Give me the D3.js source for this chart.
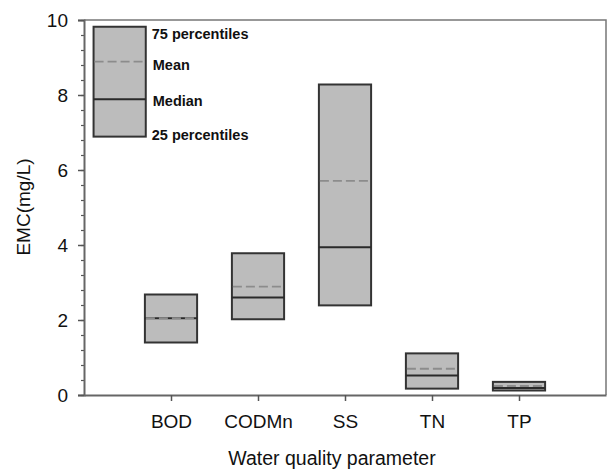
<!DOCTYPE html>
<html>
<head>
<meta charset="utf-8">
<script src="https://cdn.jsdelivr.net/npm/d3@7"></script>
<style>
  body { margin: 0; background: #fff; }
  text { font-family: "Liberation Sans", Arial, sans-serif; }
</style>
</head>
<body>
<script>
// Data
var params = ["BOD", "CODMn", "SS", "TN", "TP"];
var q1 = [1.40, 2.02, 2.39, 0.17, 0.12];
var q3 = [2.68, 3.78, 8.28, 1.11, 0.35];
var medians = [2.05, 2.60, 3.94, 0.52, 0.19];
var means = [2.05, 2.89, 5.71, 0.70, 0.24];
var yTicks = [0, 2, 4, 6, 8, 10];

// legend box (drawn like a box in data units)
var legendPos = 0.41;
var legendVals = { q1: 6.89, median: 7.89, mean: 8.89, q3: 9.82 };
var legendLabels = ["75 percentiles", "Mean", "Median", "25 percentiles"];
var legendLabelY = [9.62, 8.80, 7.84, 6.93];

var svgWidth = 608;
var svgHeight = 470;

var chartMargin = { top: 20, right: 2, bottom: 75, left: 84 };
var chartWidth = svgWidth - chartMargin.left - chartMargin.right;
var chartHeight = svgHeight - chartMargin.top - chartMargin.bottom;

var svg = d3.select("body")
  .append("svg")
  .attr("width", svgWidth)
  .attr("height", svgHeight);

var chartGroup = svg.append("g")
  .attr("transform", `translate(${chartMargin.left}, ${chartMargin.top})`);

// positions 1..5 in a 0..6 domain
var xScale = d3.scaleLinear().domain([0, 6]).range([0, chartWidth]);
var yScale = d3.scaleLinear().domain([0, 10]).range([chartHeight, 0]);
var boxW = xScale(0.6) - xScale(0);

var boxes = params.map(function(p, i) {
  return { name: p, pos: i + 1, q1: q1[i], q3: q3[i], median: medians[i], mean: means[i] };
});

// frame (top and right)
chartGroup.append("path")
  .attr("d", `M0,0H${chartWidth}V${chartHeight}`)
  .attr("fill", "none")
  .attr("stroke", "#777")
  .attr("stroke-width", 1.5);

// left axis with minor ticks
var minorAxis = d3.axisLeft(yScale)
  .tickValues(d3.range(0, 10.01, 0.4).map(d => +d.toFixed(1)))
  .tickSize(3)
  .tickFormat("");
chartGroup.append("g").call(minorAxis)
  .call(g => g.select(".domain").remove())
  .selectAll("line").attr("stroke", "#555").attr("stroke-width", 1.2);

var leftAxis = d3.axisLeft(yScale).tickValues(yTicks).tickSize(6).tickPadding(10);
var yAxisG = chartGroup.append("g").call(leftAxis);
yAxisG.select(".domain").attr("stroke", "#666").attr("stroke-width", 2);
yAxisG.selectAll("line").attr("stroke", "#555").attr("stroke-width", 1.5);
yAxisG.selectAll("text")
  .style("font-family", "Liberation Sans, Arial, sans-serif")
  .style("font-size", "19px")
  .attr("fill", "#111");

// bottom axis
var bottomAxis = d3.axisBottom(xScale)
  .tickValues(boxes.map(d => d.pos))
  .tickFormat((d, i) => params[i])
  .tickSize(6)
  .tickPadding(14)
  .tickSizeOuter(0);
var xAxisG = chartGroup.append("g")
  .attr("transform", `translate(0, ${chartHeight})`)
  .call(bottomAxis);
xAxisG.select(".domain").attr("stroke", "#666").attr("stroke-width", 2);
xAxisG.selectAll("line").attr("stroke", "#555").attr("stroke-width", 1.5);
xAxisG.selectAll("text")
  .style("font-family", "Liberation Sans, Arial, sans-serif")
  .style("font-size", "19px")
  .attr("fill", "#111");

// draw a box: fill, median, mean
function drawBox(g, d) {
  var x0 = xScale(d.pos) - boxW / 2;
  g.append("rect")
    .attr("x", x0)
    .attr("y", yScale(d.q3))
    .attr("width", boxW)
    .attr("height", yScale(d.q1) - yScale(d.q3))
    .attr("fill", "#bcbcbc")
    .attr("stroke", "#333")
    .attr("stroke-width", 2);
  g.append("line")
    .attr("x1", x0).attr("x2", x0 + boxW)
    .attr("y1", yScale(d.median)).attr("y2", yScale(d.median))
    .attr("stroke", "#2a2a2a")
    .attr("stroke-width", 2);
  g.append("line")
    .attr("x1", x0 + 1).attr("x2", x0 + boxW - 1)
    .attr("y1", yScale(d.mean)).attr("y2", yScale(d.mean))
    .attr("stroke", "#8c8c8c")
    .attr("stroke-width", 1.8)
    .attr("stroke-dasharray", "9,4");
}

boxes.forEach(function(d) { drawBox(chartGroup, d); });

// legend
var legendBox = { pos: legendPos, q1: legendVals.q1, q3: legendVals.q3, median: legendVals.median, mean: legendVals.mean };
drawBox(chartGroup, legendBox);

chartGroup.selectAll(".legend-label")
  .data(legendLabels)
  .enter()
  .append("text")
  .attr("class", "legend-label")
  .attr("x", (d, i) => xScale(legendPos) + boxW / 2 + (i === 0 || i === 3 ? 6 : 7))
  .attr("y", (d, i) => yScale(legendLabelY[i]))
  .attr("dy", "0.35em")
  .style("font-size", "14.5px")
  .style("font-weight", "bold")
  .attr("fill", "#111")
  .text(d => d);

// axis titles
svg.append("text")
  .attr("x", chartMargin.left + xScale(3) - 13)
  .attr("y", 465)
  .attr("text-anchor", "middle")
  .style("font-size", "19.5px")
  .attr("fill", "#111")
  .text("Water quality parameter");

svg.append("text")
  .attr("transform", "translate(30, 207) rotate(-90)")
  .attr("text-anchor", "middle")
  .style("font-size", "19px")
  .attr("fill", "#111")
  .text("EMC(mg/L)");
</script>
</body>
</html>
